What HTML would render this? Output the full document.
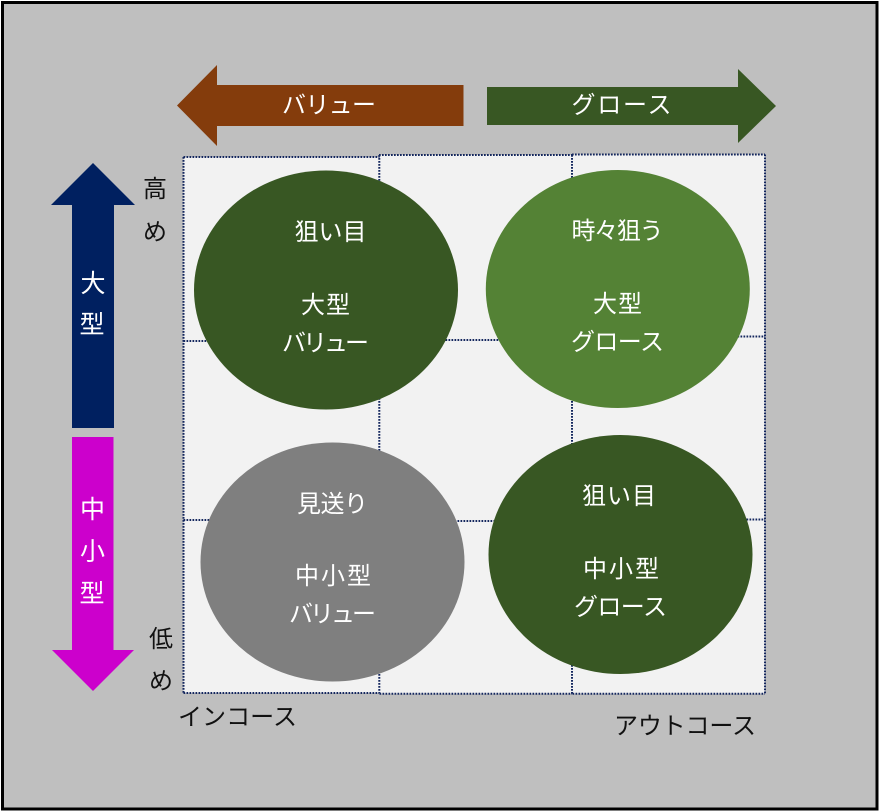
<!DOCTYPE html>
<html lang="ja">
<head>
<meta charset="utf-8">
<style>
html,body{margin:0;padding:0;background:#fff}
svg{display:block}
text{font-family:"Liberation Sans","Noto Sans CJK JP",sans-serif;font-size:24px;text-anchor:middle}
.w{fill:#fff}
.k{fill:#111}
.d{fill:none;stroke:#14275e;stroke-width:2;stroke-dasharray:1.7 1.3}
</style>
</head>
<body>
<svg width="879" height="812" viewBox="0 0 879 812" xmlns="http://www.w3.org/2000/svg">
<rect x="0" y="0" width="879" height="812" fill="#ffffff"/>
<rect x="2.500" y="2.500" width="874.500" height="806.500" fill="#bfbfbf" stroke="#000" stroke-width="3"/>

<!-- grid background -->
<polygon points="183.500,157 379,157 379,155 572,155 572,154.500 765,154.500 765,693.700 379,693.700 379,693 183.500,693" fill="#f2f2f2"/>

<!-- grid lines -->
<path class="d" d="M183.500 157H379.500"/>
<path class="d" d="M379 155H572"/>
<path class="d" d="M572 154.500H765"/>
<path class="d" d="M183.500 157V693"/>
<path class="d" d="M379.300 155V693.500"/>
<path class="d" d="M572 155V694"/>
<path class="d" d="M765 154.500V693.700"/>
<path class="d" d="M183.500 341H379"/>
<path class="d" d="M379.500 340H572"/>
<path class="d" d="M572.500 336.500H765"/>
<path class="d" d="M183.500 520H379"/>
<path class="d" d="M379.500 521H572"/>
<path class="d" d="M572.500 519.500H765"/>
<path class="d" d="M183.500 693H379"/>
<path class="d" d="M379.500 693.700H572"/>
<path class="d" d="M572.500 693.700H765"/>

<!-- arrows -->
<polygon points="177,105.500 217,65 217,85 463.500,85 463.500,126 217,126 217,146" fill="#843c0c"/>
<polygon points="776,106 738,69 738,87 487,87 487,125 738,125 738,143" fill="#385723"/>
<polygon points="93,163 135,205 114,205 114,428 72,428 72,205 51,205" fill="#002060"/>
<polygon points="93,691 134,650 113.500,650 113.500,437 72,437 72,650 52,650" fill="#cc00cc"/>

<!-- ellipses -->
<ellipse cx="326" cy="290" rx="132" ry="119.500" fill="#385723"/>
<ellipse cx="617.800" cy="289" rx="132" ry="119" fill="#548235"/>
<ellipse cx="332.500" cy="562" rx="132" ry="119.500" fill="#7f7f7f"/>
<ellipse cx="620.500" cy="554.500" rx="132" ry="119.500" fill="#385723"/>

<!-- arrow labels -->
<text class="w" x="329" y="113" textLength="94">バリュー</text>
<text class="w" x="621.500" y="113" textLength="100">グロース</text>
<text class="w" x="93" y="292" style="font-size:25px">大</text>
<text class="w" x="92" y="333" style="font-size:25px">型</text>
<text class="w" x="92.500" y="518" style="font-size:25px">中</text>
<text class="w" x="92.500" y="560" style="font-size:25px">小</text>
<text class="w" x="92" y="602" style="font-size:25px">型</text>

<!-- ellipse labels -->
<text class="w" x="330.500" y="240" textLength="72">狙い目</text>
<text class="w" x="325.500" y="313" textLength="49">大型</text>
<text class="w" x="325.500" y="351" textLength="87">バリュー</text>

<text class="w" x="617.500" y="239" textLength="92">時々狙う</text>
<text class="w" x="617.500" y="312" textLength="49">大型</text>
<text class="w" x="617.500" y="350" textLength="93">グロース</text>

<text class="w" x="332.500" y="512" textLength="71">見送り</text>
<text class="w" x="333" y="584" textLength="76">中小型</text>
<text class="w" x="332.500" y="622" textLength="87">バリュー</text>

<text class="w" x="619" y="504" textLength="74">狙い目</text>
<text class="w" x="621" y="577" textLength="76">中小型</text>
<text class="w" x="620.500" y="615" textLength="93">グロース</text>

<!-- axis labels -->
<text class="k" x="155" y="197">高</text>
<text class="k" x="155" y="240">め</text>
<text class="k" x="161" y="647">低</text>
<text class="k" x="161" y="689">め</text>
<text class="k" x="237.500" y="725" textLength="119">インコース</text>
<text class="k" x="685" y="734" textLength="142">アウトコース</text>
</svg>
</body>
</html>
